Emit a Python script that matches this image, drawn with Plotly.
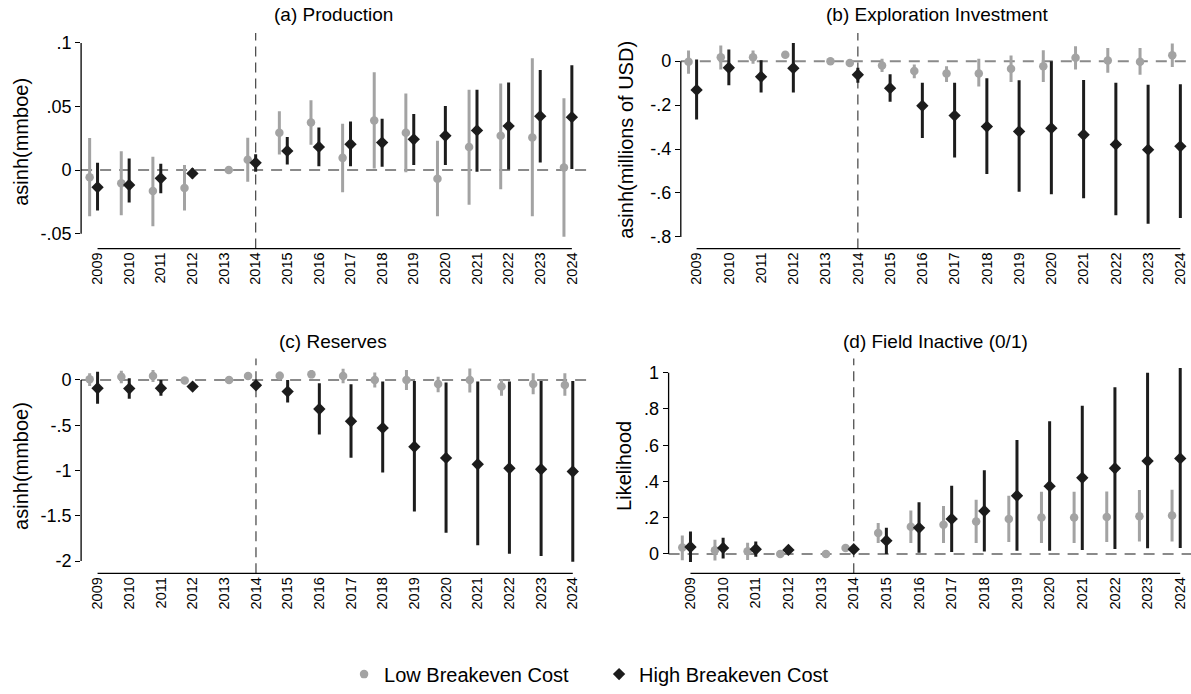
import plotly.graph_objects as go

# ---------------- data ----------------
years = list(range(2009, 2025))
year_labels = [str(y) for y in years]
ref_year = 2013
ref_value = 0.0

# (a) Production
a_low    = [-0.0057, -0.0104, -0.0164, -0.0140, None, 0.0081, 0.0294, 0.0374, 0.0096, 0.0390, 0.0294, -0.0068, 0.0182, 0.0270, 0.0257, 0.0021]
a_low_hi = [0.0252, 0.0148, 0.0104, 0.0039, None, 0.0255, 0.0463, 0.0549, 0.0364, 0.0770, 0.0603, 0.0231, 0.0632, 0.0681, 0.0879, 0.0564]
a_low_lo = [-0.0364, -0.0356, -0.0442, -0.0317, None, -0.0091, 0.0122, 0.0200, -0.0174, 0.0013, -0.0018, -0.0364, -0.0273, -0.0151, -0.0364, -0.0525]
a_high    = [-0.0135, -0.0117, -0.0065, -0.0026, None, 0.0057, 0.0151, 0.0182, 0.0203, 0.0216, 0.0242, 0.0270, 0.0312, 0.0346, 0.0424, 0.0416]
a_high_hi = [0.0057, 0.0091, 0.0049, 0.0013, None, 0.0125, 0.0260, 0.0335, 0.0382, 0.0403, 0.0442, 0.0504, 0.0632, 0.0689, 0.0788, 0.0824]
a_high_lo = [-0.0317, -0.0255, -0.0182, -0.0065, None, -0.0013, 0.0044, 0.0031, 0.0031, 0.0026, 0.0039, 0.0039, -0.0013, 0.0005, 0.0060, 0.0008]

# (b) Exploration Investment
b_low    = [-0.003, 0.018, 0.018, 0.029, None, -0.008, -0.020, -0.045, -0.056, -0.056, -0.035, -0.023, 0.015, 0.003, -0.003, 0.027]
b_low_hi = [0.048, 0.071, 0.048, 0.040, None, -0.002, 0.011, -0.015, -0.023, 0.011, 0.026, 0.050, 0.068, 0.060, 0.060, 0.080]
b_low_lo = [-0.057, -0.038, -0.012, 0.018, None, -0.014, -0.050, -0.078, -0.095, -0.116, -0.095, -0.095, -0.038, -0.053, -0.062, -0.027]
b_high    = [-0.131, -0.030, -0.071, -0.032, None, -0.062, -0.123, -0.203, -0.248, -0.298, -0.320, -0.305, -0.335, -0.379, -0.403, -0.388]
b_high_hi = [0.0075, 0.053, 0.0045, 0.083, None, -0.030, -0.060, -0.098, -0.098, -0.078, -0.087, 0.000, -0.086, -0.098, -0.107, -0.105]
b_high_lo = [-0.266, -0.110, -0.143, -0.143, None, -0.098, -0.185, -0.350, -0.439, -0.514, -0.594, -0.606, -0.624, -0.702, -0.740, -0.714]

# (c) Reserves
c_low    = [0.007, 0.036, 0.044, -0.005, None, 0.044, 0.047, 0.062, 0.044, 0.000, 0.000, -0.044, 0.000, -0.073, -0.044, -0.055]
c_low_hi = [0.073, 0.102, 0.110, 0.010, None, 0.055, 0.091, 0.110, 0.124, 0.084, 0.110, 0.036, 0.128, 0.007, 0.073, 0.073]
c_low_lo = [-0.066, -0.036, -0.022, -0.020, None, 0.033, 0.007, 0.018, -0.036, -0.084, -0.110, -0.135, -0.139, -0.175, -0.157, -0.175]
c_high    = [-0.091, -0.095, -0.091, -0.073, None, -0.058, -0.128, -0.321, -0.456, -0.529, -0.737, -0.861, -0.931, -0.975, -0.986, -1.011]
c_high_hi = [0.091, 0.018, 0.000, -0.055, None, -0.040, 0.000, -0.036, -0.047, -0.018, -0.011, -0.029, -0.018, -0.018, -0.011, -0.011]
c_high_lo = [-0.263, -0.208, -0.175, -0.091, None, -0.076, -0.248, -0.602, -0.858, -1.022, -1.453, -1.686, -1.825, -1.920, -1.945, -2.008]

# (d) Field Inactive (0/1)
d_low    = [0.035, 0.020, 0.015, 0.000, None, 0.033, 0.115, 0.150, 0.161, 0.179, 0.193, 0.201, 0.201, 0.204, 0.208, 0.212]
d_low_hi = [0.102, 0.078, 0.062, 0.004, None, 0.040, 0.170, 0.239, 0.265, 0.299, 0.321, 0.343, 0.343, 0.345, 0.352, 0.354]
d_low_lo = [-0.035, -0.036, -0.033, -0.004, None, 0.026, 0.060, 0.060, 0.060, 0.060, 0.066, 0.060, 0.060, 0.066, 0.069, 0.069]
d_high    = [0.038, 0.033, 0.026, 0.022, None, 0.026, 0.073, 0.144, 0.193, 0.237, 0.321, 0.374, 0.420, 0.473, 0.513, 0.527]
d_high_hi = [0.124, 0.089, 0.069, 0.030, None, 0.034, 0.144, 0.285, 0.376, 0.462, 0.628, 0.732, 0.818, 0.920, 1.000, 1.026]
d_high_lo = [-0.044, -0.026, -0.015, 0.014, None, 0.018, 0.000, 0.007, 0.011, 0.013, 0.018, 0.018, 0.022, 0.027, 0.031, 0.033]

panel_titles = ["(a) Production", "(b) Exploration Investment", "(c) Reserves", "(d) Field Inactive (0/1)"]
y_titles = ["asinh(mmboe)", "asinh(millions of USD)", "asinh(mmboe)", "Likelihood"]
y_tickvals = [[-0.05, 0, 0.05, 0.1], [-0.8, -0.6, -0.4, -0.2, 0], [-2, -1.5, -1, -0.5, 0], [0, 0.2, 0.4, 0.6, 0.8, 1]]
y_ticktext = [["-.05", "0", ".05", ".1"], ["-.8", "-.6", "-.4", "-.2", "0"], ["-2", "-1.5", "-1", "-.5", "0"], ["0", ".2", ".4", ".6", ".8", "1"]]
series_names = ["Low Breakeven Cost", "High Breakeven Cost"]
event_year = 2014

# ---------------- style ----------------
W, H = 1191, 694
FONT = "Liberation Sans, Arial, sans-serif"
NARROW = "Liberation Sans Narrow, Arial Narrow, Liberation Sans, Arial, sans-serif"
GREY = "#a3a3a3"
BLACK = "#1c1c1c"
LOW_OFF = -0.25
REF_OFF = 0.15

# pixel boxes of plot regions: (left, right, top, bottom)
boxes = [(81.1, 588.3, 33.3, 250.7), (680.8, 1191, 33.3, 250.7),
         (81.1, 588.3, 361.7, 578.3), (668.6, 1191, 361.7, 578.3)]
x_ranges = [[2008.48, 2024.52], [2008.51, 2024.33], [2008.48, 2024.49], [2008.33, 2024.33]]
y_ranges = [[-0.0617, 0.1078], [-0.853, 0.128], [-2.135, 0.2365], [-0.107, 1.078]]
title_pos = [(333, 15), (937, 15), (333, 344), (935, 344)]
ytitle_pos = [(21, 143), (626, 141), (21, 470), (624, 470)]

panels = [
    (a_low, a_low_hi, a_low_lo, a_high, a_high_hi, a_high_lo),
    (b_low, b_low_hi, b_low_lo, b_high, b_high_hi, b_high_lo),
    (c_low, c_low_hi, c_low_lo, c_high, c_high_hi, c_high_lo),
    (d_low, d_low_hi, d_low_lo, d_high, d_high_hi, d_high_lo),
]


def err(v, hi, lo):
    plus = [None if a is None else h - a for a, h in zip(v, hi)]
    minus = [None if a is None else a - l for a, l in zip(v, lo)]
    return plus, minus


fig = go.Figure()
shapes = []
annotations = []
layout = {}

for i, (lo_v, lo_hi, lo_lo, hi_v, hi_hi, hi_lo) in enumerate(panels):
    n = "" if i == 0 else str(i + 1)
    xa, ya = "x" + n, "y" + n
    l, r, t, b = boxes[i]
    layout["xaxis" + n] = dict(
        domain=[l / W, r / W], range=x_ranges[i], anchor=ya,
        tickmode="array", tickvals=years, ticktext=year_labels, tickangle=-90,
        tickfont=dict(family=NARROW, size=14.5, color="black"),
        ticks="", showline=False, showgrid=False, zeroline=False,
    )
    layout["yaxis" + n] = dict(
        domain=[1 - b / H, 1 - t / H], range=y_ranges[i], anchor=xa,
        tickmode="array", tickvals=y_tickvals[i], ticktext=y_ticktext[i],
        tickfont=dict(family=FONT, size=18, color="black"),
        ticks="outside", ticklen=5, tickwidth=1.2, tickcolor="black",
        showline=False, showgrid=False, zeroline=False,
    )
    # zero reference line
    shapes.append(dict(type="line", xref=xa + " domain", x0=0, x1=1, yref=ya, y0=0, y1=0,
                       line=dict(color="#8a8a8a", width=2, dash="11px,8px"), layer="below"))
    # event line
    shapes.append(dict(type="line", xref=xa, x0=event_year, x1=event_year, yref=ya + " domain", y0=0, y1=1,
                       line=dict(color="#505050", width=1.3, dash="10px,6px"), layer="below"))
    # axis lines (span tick range only)
    shapes.append(dict(type="line", xref=xa + " domain", x0=0, x1=0, yref=ya,
                       y0=min(y_tickvals[i]), y1=max(y_tickvals[i]), line=dict(color="black", width=1.3)))
    shapes.append(dict(type="line", xref=xa, x0=years[0], x1=years[-1], yref=ya + " domain",
                       y0=0, y1=0, line=dict(color="black", width=1.3)))

    lp, lm = err(lo_v, lo_hi, lo_lo)
    hp, hm = err(hi_v, hi_hi, hi_lo)
    fig.add_trace(go.Scatter(
        x=[y + LOW_OFF for y in years], y=lo_v, mode="markers", name=series_names[0],
        legendgroup="low", showlegend=(i == 0), xaxis=xa, yaxis=ya,
        marker=dict(symbol="circle", size=8.5, color=GREY),
        error_y=dict(type="data", array=lp, arrayminus=lm, symmetric=False,
                     color=GREY, thickness=3, width=0),
    ))
    fig.add_trace(go.Scatter(
        x=[ref_year + REF_OFF], y=[ref_value], mode="markers", showlegend=False,
        xaxis=xa, yaxis=ya, marker=dict(symbol="circle", size=8.5, color=GREY),
    ))
    fig.add_trace(go.Scatter(
        x=years, y=hi_v, mode="markers", name=series_names[1],
        legendgroup="high", showlegend=(i == 0), xaxis=xa, yaxis=ya,
        marker=dict(symbol="diamond", size=9.5, color=BLACK),
        error_y=dict(type="data", array=hp, arrayminus=hm, symmetric=False,
                     color=BLACK, thickness=3, width=0),
    ))

    tx, ty = title_pos[i]
    annotations.append(dict(text=panel_titles[i], xref="paper", yref="paper", x=tx / W, y=1 - ty / H,
                            xanchor="center", yanchor="middle", showarrow=False,
                            font=dict(family=FONT, size=19, color="black")))
    yx, yy = ytitle_pos[i]
    annotations.append(dict(text=y_titles[i], xref="paper", yref="paper", x=yx / W, y=1 - yy / H,
                            xanchor="center", yanchor="middle", showarrow=False, textangle=-90,
                            font=dict(family=FONT, size=20, color="black")))

fig.update_layout(
    width=W, height=H, margin=dict(l=0, r=0, t=0, b=0),
    paper_bgcolor="white", plot_bgcolor="white",
    font=dict(family=FONT, color="black"),
    shapes=shapes, annotations=annotations,
    showlegend=True,
    legend=dict(orientation="h", x=0.503, xanchor="center", y=1 - 680 / H, yanchor="middle",
                font=dict(family=FONT, size=20, color="black"), bgcolor="rgba(0,0,0,0)",
                entrywidth=210, entrywidthmode="pixels"),
    **layout,
)

fig.write_html("out.html")
